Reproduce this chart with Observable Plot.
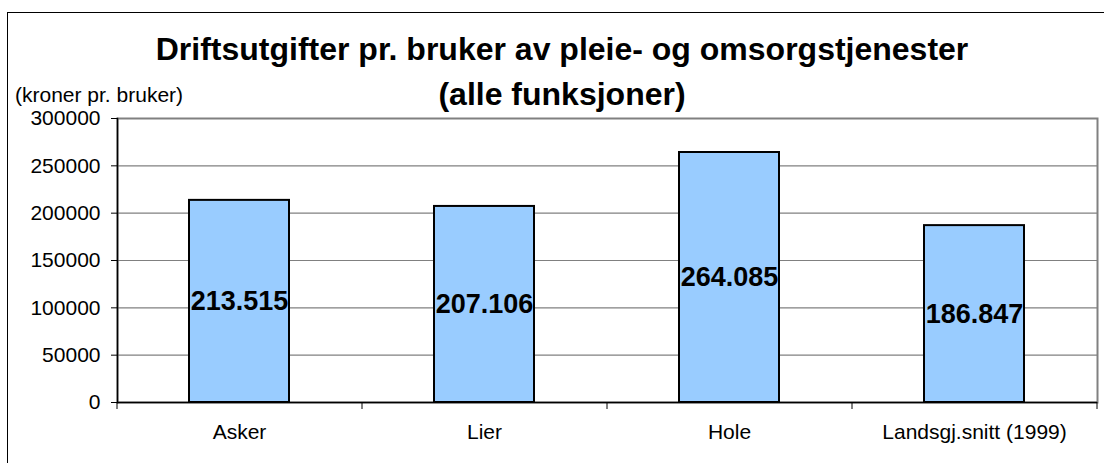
<!DOCTYPE html>
<html>
<head>
<meta charset="utf-8">
<script src="https://cdn.jsdelivr.net/npm/d3@7"></script>
<script src="https://cdn.jsdelivr.net/npm/@observablehq/plot@0.6"></script>
<style>
  html, body { margin: 0; padding: 0; background: #fff; overflow: hidden; }
  #wrap { position: relative; width: 1104px; height: 463px; font-family: "Liberation Sans", Arial, sans-serif; }
  #border { position: absolute; left: 7px; top: 12px; width: 1200px; height: 500px; border: 1.5px solid #000; box-sizing: border-box; }
  #title { position: absolute; left: 0; width: 1124px; top: 27px; text-align: center; font-weight: bold; font-size: 32px; line-height: 45px; color: #000; }
  #ylabel { position: absolute; left: 15px; top: 83px; font-size: 21px; color: #000; }
  #chart { position: absolute; left: 0; top: 0; }
</style>
</head>
<body>
<div id="wrap">
  <div id="border"></div>
  <div id="chart"></div>
  <div id="title">Driftsutgifter pr. bruker av pleie- og omsorgstjenester<br>(alle funksjoner)</div>
  <div id="ylabel">(kroner pr. bruker)</div>
</div>
<script>
const categories = ["Asker", "Lier", "Hole", "Landsgj.snitt (1999)"];
const values = [213515, 207106, 264085, 186847];
const labels = ["213.515", "207.106", "264.085", "186.847"];
const yTicks = [0, 50000, 100000, 150000, 200000, 250000, 300000];

const data = categories.map((c, i) => ({category: c, value: values[i], label: labels[i]}));

const chart = Plot.plot({
  width: 1104,
  height: 463,
  marginLeft: 117,
  marginRight: 7,
  marginTop: 118,
  marginBottom: 61,
  style: {fontFamily: "'Liberation Sans', Arial, sans-serif", fontSize: "21px", color: "#000", background: "transparent"},
  x: {domain: categories, paddingInner: 0.59, paddingOuter: 0.295},
  y: {domain: [0, 300000]},
  marks: [
    Plot.gridY(yTicks, {stroke: "#808080", strokeOpacity: 1, strokeWidth: 1.2}),
    Plot.frame({stroke: "#808080", strokeWidth: 2}),
    Plot.barY(data, {x: "category", y: "value", fill: "#99CCFF", stroke: "#000", strokeWidth: 2}),
    Plot.text(data, {x: "category", y: d => d.value / 2, text: "label", fontWeight: "bold", fontSize: 27, fill: "#000"}),
    Plot.ruleY([0], {stroke: "#000", strokeWidth: 1.5}),
    Plot.frame({anchor: "left", stroke: "#000", strokeWidth: 1.5}),
    Plot.ruleX(categories, {x: d => d, dx: -122.5, y1: 0, y2: -7400, stroke: "#000"}),
    Plot.ruleX(categories.slice(-1), {x: d => d, dx: 122.5, y1: 0, y2: -7400, stroke: "#000"}),
    Plot.axisY(yTicks, {tickFormat: d3.format("d"), tickSize: 6, tickPadding: 11, fontSize: 21, label: null}),
    Plot.axisX({tickSize: 0, tickPadding: 22, fontSize: 21, label: null})
  ]
});
document.getElementById("chart").appendChild(chart);
</script>
</body>
</html>
